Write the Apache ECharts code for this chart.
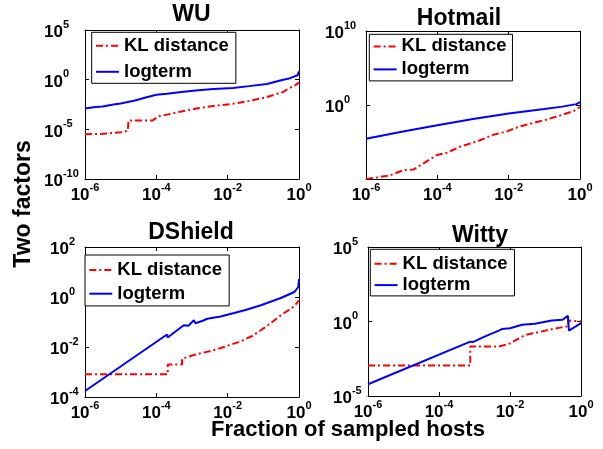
<!DOCTYPE html>
<html>
<head>
<meta charset="utf-8">
<title>Two factors</title>
<script src="https://cdn.jsdelivr.net/npm/echarts@6.0.0/dist/echarts.min.js"></script>
<style>
    html, body { margin: 0; padding: 0; background: #fff; }
    #container { width: 603px; height: 449px; }
</style>
</head>
<body>
<div id="container"></div>
<script>
(function () {
    'use strict';

    // every value is a base-10 exponent: [log10(fraction of hosts), log10(factor)]
    var panelTitles = ['WU', 'Hotmail', 'DShield', 'Witty'];
    var seriesNames = ['KL distance', 'logterm'];
    var xRange = [-6, 0, 2];
    var yRanges = [[-10, 5, 5], [-10, 10, 10], [-4, 2, 2], [-5, 5, 5]];

    var wuKL = [[-6, -5.5], [-5.5, -5.45], [-5.0, -5.3], [-4.8, -5.15], [-4.78, -4.1], [-4.1, -4.1], [-3.95, -3.7],
        [-3.8, -3.6], [-3.3, -3.2], [-2.8, -2.85], [-2.3, -2.6], [-1.85, -2.43], [-1.4, -2.15], [-0.95, -1.8],
        [-0.45, -1.25], [-0.3, -0.9], [-0.1, -0.55], [0, -0.25]];
    var wuLog = [[-6, -2.9], [-5.7, -2.75], [-5.5, -2.7], [-5.2, -2.5], [-5.0, -2.4], [-4.6, -2.1], [-4.3, -1.8],
        [-4.0, -1.52], [-3.7, -1.42], [-3.3, -1.25], [-2.9, -1.08], [-2.4, -0.95], [-1.85, -0.83], [-1.4, -0.65],
        [-0.9, -0.43], [-0.5, -0.05], [-0.25, 0.15], [-0.04, 0.44], [0, 0.85]];

    var hotKL = [[-6, -10], [-5.7, -9.8], [-5.32, -9.49], [-4.95, -8.81], [-4.67, -8.72], [-4.39, -7.9], [-4.01, -6.76],
        [-3.73, -6.44], [-3.36, -5.62], [-2.89, -4.93], [-2.43, -4.02], [-2.05, -3.56], [-1.68, -2.88], [-1.31, -2.42],
        [-0.93, -1.96], [-0.56, -1.41], [-0.18, -0.82], [0, -0.27]];
    var hotLog = [[-6, -4.56], [-5, -3.62], [-4, -2.74], [-3, -1.9], [-2, -1.14], [-1, -0.55], [-0.5, -0.22],
        [-0.1, 0.12], [0, 0.4]];

    var dsKL = [[-6, -3.09], [-3.68, -3.09], [-3.68, -2.7], [-3.28, -2.7], [-3.28, -2.47], [-2.9, -2.3], [-2.39, -2.13],
        [-2.0, -1.95], [-1.63, -1.77], [-1.3, -1.55], [-1.07, -1.33], [-0.8, -1.05], [-0.51, -0.73], [-0.13, -0.37],
        [0, -0.13]];
    var dsLog = [[-6, -3.76], [-3.7, -1.5], [-3.68, -1.62], [-3.5, -1.42], [-3.23, -1.13], [-3.1, -1.15], [-2.95, -0.93],
        [-2.9, -1.05], [-2.7, -0.95], [-2.57, -0.87], [-2.2, -0.78], [-1.82, -0.64], [-1.5, -0.52], [-1.07, -0.33],
        [-0.51, -0.04], [-0.13, 0.2], [-0.02, 0.4], [0, 0.72]];

    var wittyKL = [[-6, -2.96], [-3.12, -2.96], [-3.12, -1.68], [-2.32, -1.68], [-2.1, -1.55], [-1.99, -1.46],
        [-1.8, -1.2], [-1.57, -0.9], [-1.2, -0.72], [-0.91, -0.56], [-0.44, -0.34], [-0.36, -0.34], [-0.36, 0.07],
        [0, 0.0]];
    var wittyLog = [[-6, -4.21], [-3.12, -1.35], [-3.05, -1.38], [-2.7, -1.0], [-2.3, -0.6], [-2.23, -0.51],
        [-2.2, -0.62], [-2.0, -0.45], [-1.66, -0.22], [-1.3, -0.15], [-0.82, 0.07], [-0.52, 0.12], [-0.37, 0.38],
        [-0.34, -0.61], [0, -0.11]];

    var panelData = [[wuKL, wuLog], [hotKL, hotLog], [dsKL, dsLog], [wittyKL, wittyLog]];

    // layout (pixels)
    var FONT = '"Liberation Sans", Arial, Helvetica, sans-serif';
    var grids = [
        { left: 85, top: 30, width: 214, height: 149 },
        { left: 366, top: 31, width: 214, height: 148 },
        { left: 85, top: 247, width: 214, height: 150 },
        { left: 368, top: 247, width: 213, height: 149 }
    ];
    // y tick labels start at a fixed x (the "10" lines up, exponent hangs to the right)
    var yLabelMargin = [41, 41, 35, 35];
    var legendBoxes = [
        { left: 91.7, top: 32.3, padding: [4, 7, 2, 3.3], itemGap: 7 },
        { left: 369.3, top: 34.3, padding: [2.6, 6, 2, 3.3], itemGap: 4 },
        { left: 85, top: 255, padding: [5.4, 7, 2.7, 3.3], itemGap: 4.8 },
        { left: 370.3, top: 249.3, padding: [5, 7, 1.3, 3.3], itemGap: 2.3 }
    ];
    var titlePos = [[191.5, 15], [459, 18.5], [191, 233], [480, 236]];

    var dom = document.getElementById('container');
    var myChart = echarts.init(dom, null, { renderer: 'canvas' });

    var rich = {
        b: { fontSize: 17, fontWeight: 'bold', fontFamily: FONT, color: '#000', lineHeight: 22, verticalAlign: 'bottom' },
        s: { fontSize: 11, fontWeight: 'bold', fontFamily: FONT, color: '#000', lineHeight: 11, verticalAlign: 'top' }
    };

    var xAxes = [], yAxes = [], series = [], legends = [], graphics = [];

    grids.forEach(function (g, i) {
        ['bottom', 'top'].forEach(function (pos) {
            xAxes.push({
                type: 'value', gridIndex: i, position: pos,
                min: xRange[0], max: xRange[1], interval: xRange[2],
                axisLine: { show: true, onZero: false, lineStyle: { color: '#000', width: 1 } },
                axisTick: { show: true, inside: true, length: 4, lineStyle: { color: '#000' } },
                splitLine: { show: false },
                axisLabel: pos === 'bottom' ? {
                    show: true, margin: 3.2,
                    formatter: function (v) { return '{b|10}{s|' + v + '}'; },
                    rich: rich
                } : { show: false }
            });
        });
        ['left', 'right'].forEach(function (pos) {
            var r = yRanges[i];
            yAxes.push({
                type: 'value', gridIndex: i, position: pos,
                min: r[0], max: r[1], interval: r[2],
                axisLine: { show: true, onZero: false, lineStyle: { color: '#000', width: 1 } },
                axisTick: { show: true, inside: true, length: 4, lineStyle: { color: '#000' } },
                splitLine: { show: false },
                axisLabel: pos === 'left' ? {
                    show: true, margin: yLabelMargin[i], align: 'left',
                    formatter: function (v) {
                        if (i === 1 && v === -10) return '';
                        return '{b|10}{s|' + v + '}';
                    },
                    rich: rich
                } : { show: false }
            });
        });

        var d = panelData[i];
        series.push({
            type: 'line', name: seriesNames[0], xAxisIndex: 2 * i, yAxisIndex: 2 * i,
            data: d[0], symbol: 'none', animation: false, clip: true,
            lineStyle: { color: '#ff0000', width: 2, type: [7, 3, 2, 3] },
            itemStyle: { color: '#ff0000' }
        });
        series.push({
            type: 'line', name: seriesNames[1], xAxisIndex: 2 * i, yAxisIndex: 2 * i,
            data: d[1], symbol: 'none', animation: false, clip: true,
            lineStyle: { color: '#0000ff', width: 2, type: 'solid' },
            itemStyle: { color: '#0000ff' }
        });

        var lb = legendBoxes[i];
        legends.push({
            orient: 'vertical', left: lb.left, top: lb.top, padding: lb.padding, itemGap: lb.itemGap,
            itemWidth: 23, itemHeight: 12, data: seriesNames, selectedMode: false,
            backgroundColor: '#fff', borderColor: '#000', borderWidth: 1, borderRadius: 0,
            itemStyle: { opacity: 0 },
            textStyle: { fontSize: 18.5, fontWeight: 'bold', color: '#000', fontFamily: FONT }
        });

        graphics.push({
            type: 'text', x: titlePos[i][0], y: titlePos[i][1],
            style: { text: panelTitles[i], font: 'bold 23px ' + FONT, fill: '#000', textAlign: 'center', textVerticalAlign: 'middle' }
        });
    });

    graphics.push({
        type: 'text', x: 348, y: 430,
        style: { text: 'Fraction of sampled hosts', font: 'bold 22px ' + FONT, fill: '#000', textAlign: 'center', textVerticalAlign: 'middle' }
    });
    graphics.push({
        type: 'text', x: 24, y: 204, rotation: Math.PI / 2,
        style: { text: 'Two factors', font: 'bold 23px ' + FONT, fill: '#000', textAlign: 'center', textVerticalAlign: 'middle' }
    });

    var option = {
        backgroundColor: '#fff',
        animation: false,
        grid: grids.map(function (g) {
            return { left: g.left, top: g.top, width: g.width, height: g.height, containLabel: false, outerBoundsMode: 'none' };
        }),
        xAxis: xAxes,
        yAxis: yAxes,
        legend: legends,
        series: series,
        graphic: graphics
    };

    myChart.setOption(option);
})();
</script>
</body>
</html>
